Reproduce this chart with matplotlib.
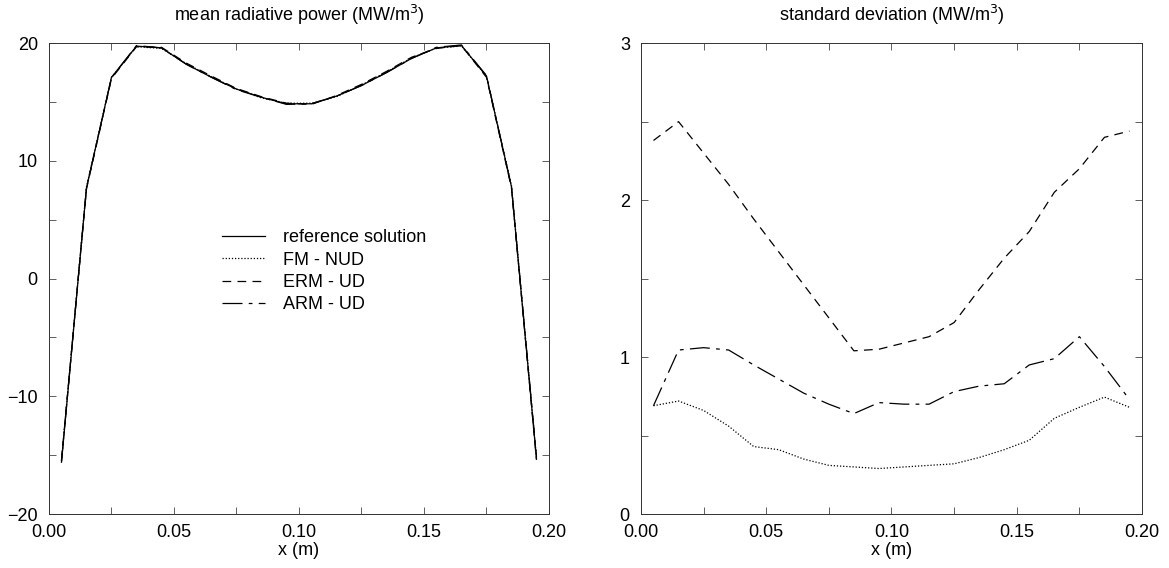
import numpy as np
import matplotlib
matplotlib.use("Agg")
from matplotlib import pyplot as plt
from matplotlib.ticker import MultipleLocator, FormatStrFormatter

plt.rcParams['font.family'] = ['Liberation Sans', 'DejaVu Sans']

# cell centres (m)
x = [0.005, 0.015, 0.025, 0.035, 0.045, 0.055, 0.065, 0.075, 0.085, 0.095,
     0.105, 0.115, 0.125, 0.135, 0.145, 0.155, 0.165, 0.175, 0.185, 0.195]

# mean radiative power (MW/m^3)
mean_ref = [-15.6, 7.7, 17.1, 19.75, 19.6, 18.2, 17.1, 16.1, 15.4, 14.85,
            14.85, 15.5, 16.4, 17.5, 18.7, 19.6, 19.8, 17.2, 7.8, -15.3]
mean_fm = [-15.5, 7.8, 17.1, 19.7, 19.55, 18.25, 17.15, 16.1, 15.35, 14.9,
           14.9, 15.45, 16.45, 17.55, 18.75, 19.6, 19.75, 17.2, 7.9, -15.2]
mean_erm = [-15.4, 7.6, 17.0, 19.7, 19.65, 18.3, 17.2, 16.15, 15.45, 14.9,
            14.8, 15.55, 16.5, 17.6, 18.8, 19.55, 19.8, 17.1, 7.7, -15.4]
mean_arm = [-15.5, 7.7, 17.05, 19.8, 19.6, 18.2, 17.1, 16.05, 15.4, 14.8,
            14.85, 15.5, 16.4, 17.5, 18.7, 19.65, 19.85, 17.25, 7.8, -15.1]

# standard deviation (MW/m^3)
std_fm = [0.69, 0.72, 0.66, 0.56, 0.43, 0.41, 0.35, 0.31, 0.30, 0.29,
          0.30, 0.31, 0.32, 0.36, 0.41, 0.47, 0.61, 0.68, 0.745, 0.68]
std_erm = [2.38, 2.50, 2.30, 2.10, 1.88, 1.67, 1.46, 1.25, 1.04, 1.05,
           1.09, 1.13, 1.22, 1.43, 1.63, 1.80, 2.05, 2.20, 2.40, 2.44]
std_arm = [0.69, 1.045, 1.06, 1.045, 0.95, 0.86, 0.77, 0.70, 0.64, 0.71,
           0.70, 0.70, 0.78, 0.815, 0.83, 0.95, 0.99, 1.13, 0.94, 0.73]

labels = ['reference solution', 'FM - NUD', 'ERM - UD', 'ARM - UD']

fig = plt.figure(figsize=(11.69, 5.68), dpi=100)
ax1 = fig.add_axes([0.0419, 0.095, 0.4277, 0.829])
ax2 = fig.add_axes([0.5483, 0.095, 0.4286, 0.829])

lw = 0.9
dot = (0, (1, 1.5))
dash = (0, (7, 5))
dashdot = (0, (16, 5, 3, 5))

ax1.plot(x, mean_ref, color='black', lw=lw, ls='-', label=labels[0])
ax1.plot(x, mean_fm, color='black', lw=lw, ls=dot, label=labels[1])
ax1.plot(x, mean_erm, color='black', lw=lw, ls=dash, label=labels[2])
ax1.plot(x, mean_arm, color='black', lw=lw, ls=dashdot, label=labels[3])

ax2.plot(x, std_fm, color='black', lw=lw, ls=dot)
ax2.plot(x, std_erm, color='black', lw=lw, ls=dash)
ax2.plot(x, std_arm, color='black', lw=lw, ls=dashdot)

ax1.set_xlim(0, 0.2)
ax1.set_ylim(-20, 20)
ax1.yaxis.set_major_locator(MultipleLocator(10))
ax1.yaxis.set_minor_locator(MultipleLocator(5))
ax2.set_xlim(0, 0.2)
ax2.set_ylim(0, 3)
ax2.yaxis.set_major_locator(MultipleLocator(1))
ax2.yaxis.set_minor_locator(MultipleLocator(0.5))

for ax in (ax1, ax2):
    ax.xaxis.set_major_locator(MultipleLocator(0.05))
    ax.xaxis.set_minor_locator(MultipleLocator(0.025))
    ax.xaxis.set_major_formatter(FormatStrFormatter('%.2f'))
    ax.tick_params(which='both', direction='in', top=True, right=True,
                   labelsize=13, width=0.6, length=5, color='#444444')
    ax.tick_params(axis='y', pad=8)
    ax.tick_params(axis='x', pad=7)
    for s in ax.spines.values():
        s.set_linewidth(0.7)
        s.set_color('#333333')
    ax.set_xlabel('x (m)', fontsize=13, labelpad=1)

ax1.set_title('mean radiative power (MW/m$^3$)', fontsize=13, pad=16)
ax2.set_title('standard deviation (MW/m$^3$)', fontsize=13, pad=16)

ax1.legend(loc='upper left', bbox_to_anchor=(0.346, 0.605), frameon=False,
           fontsize=13, handlelength=2.4, labelspacing=0.3, handletextpad=1.0,
           borderpad=0, borderaxespad=0)

fig.savefig('out.png', dpi=100)
